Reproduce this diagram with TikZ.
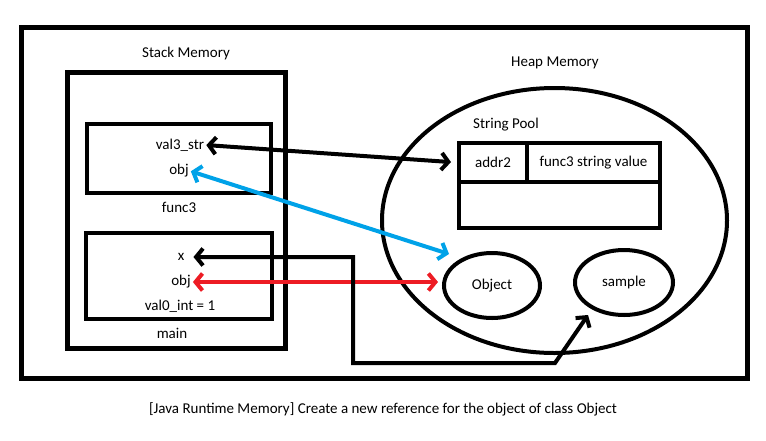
\documentclass[tikz,border=0pt]{standalone}
\usepackage{fontspec}
\setmainfont{Carlito}
\usetikzlibrary{arrows.meta,shapes.geometric}
\definecolor{pblue}{RGB}{0,162,232}
\definecolor{pred}{RGB}{237,28,36}
\begin{document}
\begin{tikzpicture}[x=1pt,y=-1pt,
  every node/.style={font=\fontsize{15}{18}\selectfont},
  boxx/.style={draw,line width=4pt,rectangle,inner sep=0pt,line join=miter},
  ell/.style={draw,line width=4pt,ellipse,inner sep=0pt},
  lbl/.style={inner sep=1pt},
  barb/.style={line width=4pt,{Straight Barb[length=7pt,width=17pt]}-{Straight Barb[length=7pt,width=17pt]}}
]
\useasboundingbox (0,0) rectangle (766,440);
% frame
\node[boxx,line width=5pt,minimum width=726pt,minimum height=351pt] (frame) at (384,202.5) {};
% stack
\node[boxx,line width=5pt,minimum width=218pt,minimum height=276pt] (stack) at (176,210) {};
\node[lbl] (stacklbl) at (186,53) {Stack Memory};
\node[boxx,minimum width=184pt,minimum height=69pt] (func3) at (179,158.5) {};
\node[boxx,minimum width=186pt,minimum height=86pt] (main) at (179,276) {};
\node[lbl] (val3) at (180,145) {val3\_str};
\node[lbl] (objf) at (179,171) {obj};
\node[lbl] (func3lbl) at (179,207) {func3};
\node[lbl] (xv) at (181,257) {x};
\node[lbl] (objm) at (181,282) {obj};
\node[lbl] (val0) at (180,306) {val0\_int = 1};
\node[lbl] (mainlbl) at (172,333) {main};
% heap
\node[lbl] (heaplbl) at (555,63) {Heap Memory};
\node[ell,minimum width=345pt,minimum height=265pt] (heap) at (554.5,220.5) {};
\node[lbl] (poollbl) at (506,125) {String Pool};
\node[boxx,minimum width=201pt,minimum height=85pt] (pool) at (559.5,185.5) {};
\node[boxx,minimum width=68pt,minimum height=39pt] (addr) at (493,162.5) {addr2};
\node[boxx,minimum width=133pt,minimum height=39pt] (fval) at (593.5,162.5) {func3 string value};
\node[ell,minimum width=96pt,minimum height=65pt] (objA) at (492,285.5) {Object};
\node[ell,minimum width=98pt,minimum height=65pt] (samp) at (624,282.5) {sample};
% connectors
\coordinate (c1) at (353,256);
\coordinate (c3) at (555,363);
\coordinate (stip) at (588,315);
\coordinate (btip) at (449,254);
\draw[barb,shorten <=1pt,shorten >=6pt] (val3.east) -- (addr.west);
\draw[barb,pblue,shorten <=1pt] (objf.east) -- (btip);
\draw[barb,pred,shorten <=1pt,shorten >=4pt] (objm.east) -- (objm.east -| objA.west);
\draw[barb,line join=miter] ([xshift=8pt]xv.east) -- (xv.east -| c1) |- (c3) -- (stip);
% caption
\node[lbl] (cap) at (383,409) {[Java Runtime Memory] Create a new reference for the object of class Object};
\end{tikzpicture}
\end{document}
